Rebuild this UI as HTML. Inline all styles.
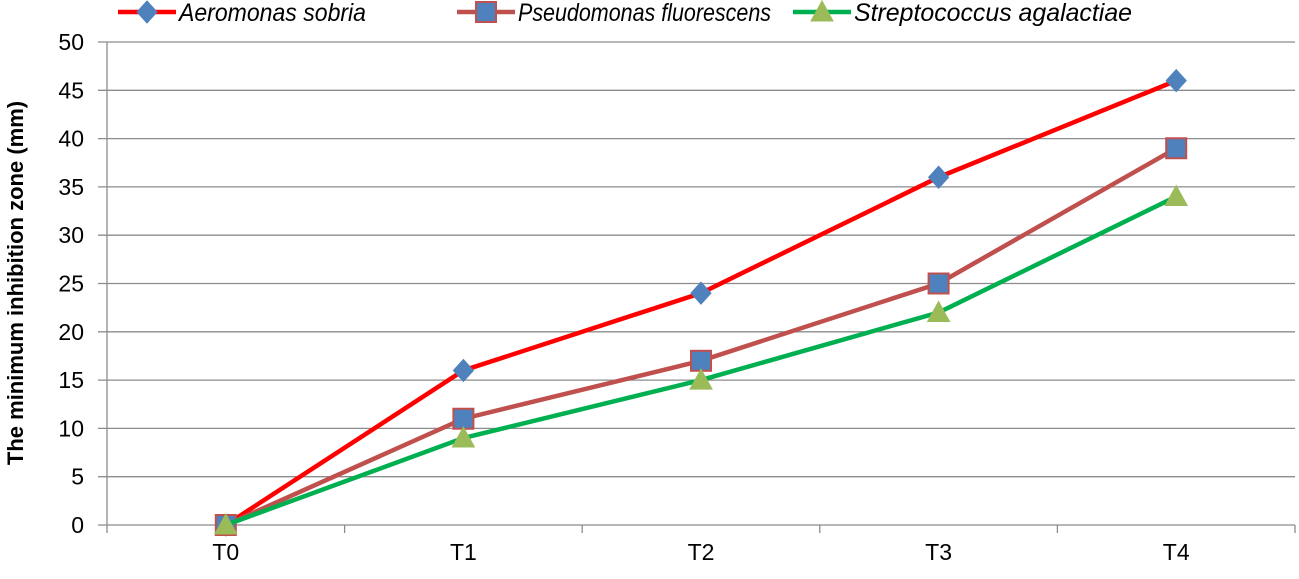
<!DOCTYPE html>
<html><head><meta charset="utf-8"><style>
body{margin:0;background:#fff;}
svg{font-family:"Liberation Sans",sans-serif;}
</style></head><body>
<svg id="chart" width="1299" height="574">
<g id="grid"></g><g id="axes"></g><g id="series"></g>
<text x="23" y="283" font-size="22" font-weight="bold" text-anchor="middle" transform="rotate(-90 23 283)">The minimum inhibition zone (mm)</text>
<g id="legend"></g>
</svg>
<script>
const categories=["T0","T1","T2","T3","T4"];
const aeromonas=[0,16,24,36,46];
const pseudomonas=[0,11,17,25,39];
const strepto=[0,9,15,22,34];
const yTicks=[0,5,10,15,20,25,30,35,40,45,50];
const seriesNames=["Aeromonas sobria","Pseudomonas fluorescens","Streptococcus agalactiae"];
const NS="http://www.w3.org/2000/svg";
const L=107,R=1295,T=42,B=525;
const x=i=>L+(R-L)/categories.length*(i+0.5);
const y=v=>B-(B-T)*v/50;
function mk(tag,a,p){const e=document.createElementNS(NS,tag);for(const k in a)e.setAttribute(k,a[k]);p.appendChild(e);return e;}
const grid=document.getElementById('grid'),axes=document.getElementById('axes'),ser=document.getElementById('series'),leg=document.getElementById('legend');
yTicks.forEach(v=>{
 const g=mk('line',{x1:98,x2:R,y1:y(v),y2:y(v),stroke:'#8c8c8c','stroke-width':1.3},grid);
 
 
 const t=mk('text',{x:84,y:y(v)+8,'font-size':23,'text-anchor':'end'},axes);t.textContent=v;
 
 
});
mk('line',{x1:L,x2:L,y1:T,y2:B,stroke:'#8c8c8c','stroke-width':1.3},axes);
for(let i=0;i<=categories.length;i++){const xx=L+(R-L)/categories.length*i;mk('line',{x1:xx,x2:xx,y1:B,y2:B+8,stroke:'#8c8c8c','stroke-width':1.3},axes);}
categories.forEach((c,i)=>{const t=mk('text',{x:x(i),y:560,'font-size':23,'text-anchor':'middle'},axes);t.textContent=c;
 
 });
const defs=[{d:aeromonas,line:'#ff0000',m:'diamond',fill:'#4f81bd',st:'#4f81bd'},{d:pseudomonas,line:'#c0504d',m:'square',fill:'#4f81bd',st:'#c0504d'},{d:strepto,line:'#00b050',m:'tri',fill:'#9bbb59',st:'#9bbb59'}];
function marker(type,cx,cy,d,p){
 if(type==='diamond')return mk('polygon',{points:`${cx},${cy-11} ${cx+10},${cy} ${cx},${cy+11} ${cx-10},${cy}`,fill:d.fill,stroke:d.st},p);
 if(type==='square')return mk('rect',{x:cx-10,y:cy-10,width:20,height:20,fill:d.fill,stroke:d.st,'stroke-width':2},p);
 return mk('polygon',{points:`${cx},${cy-11} ${cx+11},${cy+9} ${cx-11},${cy+9}`,fill:d.fill,stroke:d.st},p);
}
defs.forEach((s,si)=>{
 const pl=mk('polyline',{points:s.d.map((v,i)=>x(i)+','+y(v)).join(' '),fill:'none',stroke:s.line,'stroke-width':4.5},ser);
 
 
 s.d.forEach((v,i)=>{const m=marker(s.m,x(i),y(v),s,ser);
  
  });
});
const lx=[118,457,793];
const lw=[187,253,278];
defs.forEach((s,si)=>{
 const g=mk('g',{},leg);
 
 
 mk('line',{x1:lx[si],x2:lx[si]+58,y1:12,y2:12,stroke:s.line,'stroke-width':4.5},g);
 marker(s.m,lx[si]+29,12,s,g);
 const t=mk('text',{x:lx[si]+61,y:21,'font-size':25,'font-style':'italic',textLength:lw[si],lengthAdjust:'spacingAndGlyphs'},g);t.textContent=seriesNames[si];
});
</script>
</body></html>
